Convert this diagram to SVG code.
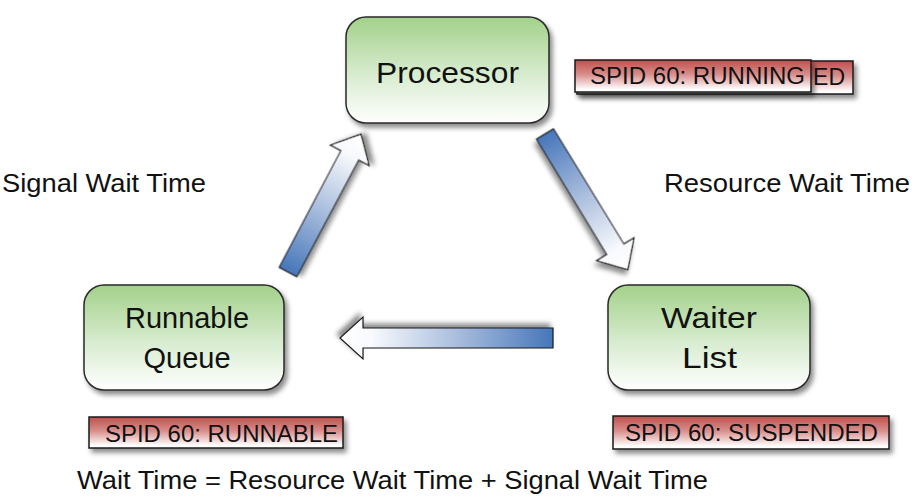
<svg xmlns="http://www.w3.org/2000/svg" width="915" height="502" viewBox="0 0 915 502">
<defs>
<linearGradient id="gGreen" x1="0" y1="0" x2="0" y2="1">
<stop offset="0" stop-color="#a3d18a"/>
<stop offset="0.55" stop-color="#d8ecd0"/>
<stop offset="1" stop-color="#ffffff"/>
</linearGradient>
<linearGradient id="gRed" x1="0" y1="0" x2="0" y2="1">
<stop offset="0" stop-color="#bf4f4c"/>
<stop offset="0.45" stop-color="#d88e8c"/>
<stop offset="0.92" stop-color="#ffffff"/>
</linearGradient>
<linearGradient id="gBlue" x1="0" y1="0" x2="1" y2="0">
<stop offset="0" stop-color="#4676ba"/>
<stop offset="0.45" stop-color="#a9bddd"/>
<stop offset="0.85" stop-color="#f7f9fd"/>
<stop offset="1" stop-color="#ffffff"/>
</linearGradient>
<filter id="sh" x="-20%" y="-20%" width="140%" height="150%">
<feDropShadow dx="3" dy="4" stdDeviation="2.5" flood-color="#000" flood-opacity="0.45"/>
</filter>
</defs>
<style>
.node{fill:url(#gGreen);stroke:#2a2a2a;stroke-width:1.5;filter:url(#sh)}
.tag{fill:url(#gRed);stroke:#1a1a1a;stroke-width:1.5;filter:url(#sh)}
.arrow{fill:url(#gBlue);stroke:#1a1a1a;stroke-width:1.2;filter:url(#sh)}
text{font-family:"Liberation Sans",Arial,sans-serif;fill:#111}
.nt{font-size:30px;text-anchor:middle}
.lt{font-size:25px}
.tt{font-size:23px}
</style>

<g id="connectors">
<polygon class="arrow" transform="translate(288,272) rotate(-62.1)" points="0,-10 132,-10 132,-22 156,0 132,22 132,10 0,10"/>
<polygon class="arrow" transform="translate(545,134) rotate(58.6)" points="0,-10 135,-10 135,-22 159,0 135,22 135,10 0,10"/>
<polygon class="arrow" transform="translate(553,338) rotate(180)" points="0,-10 190,-10 190,-21 213,0 190,21 190,10 0,10"/>
</g>

<g id="processor">
<rect class="node" x="346" y="17" width="203" height="106" rx="20" ry="20"/>
<text class="nt" x="447.5" y="83" textLength="143" lengthAdjust="spacingAndGlyphs">Processor</text>
</g>

<g id="runnable-queue">
<rect class="node" x="84" y="285" width="200" height="105" rx="20" ry="20"/>
<text class="nt" x="187" y="328" textLength="124" lengthAdjust="spacingAndGlyphs">Runnable</text>
<text class="nt" x="187" y="368" textLength="87" lengthAdjust="spacingAndGlyphs">Queue</text>
</g>

<g id="waiter-list">
<rect class="node" x="608" y="285" width="202" height="105" rx="20" ry="20"/>
<text class="nt" x="709" y="328" textLength="96" lengthAdjust="spacingAndGlyphs">Waiter</text>
<text class="nt" x="709.5" y="368" textLength="55" lengthAdjust="spacingAndGlyphs">List</text>
</g>

<g id="tag-suspended-back">
<rect class="tag" x="577" y="61" width="276" height="33"/>
<text class="tt" x="845" y="85" text-anchor="end">ED</text>
</g>

<g id="tag-running">
<rect class="tag" x="575" y="60" width="236" height="32"/>
<text class="tt" x="590" y="84" textLength="215" lengthAdjust="spacingAndGlyphs">SPID 60: RUNNING</text>
</g>

<g id="tag-runnable">
<rect class="tag" x="89" y="417" width="254" height="31"/>
<text class="tt" x="105" y="442" textLength="233" lengthAdjust="spacingAndGlyphs">SPID 60: RUNNABLE</text>
</g>

<g id="tag-suspended">
<rect class="tag" x="613" y="416" width="276" height="33"/>
<text class="tt" x="625" y="441" textLength="253" lengthAdjust="spacingAndGlyphs">SPID 60: SUSPENDED</text>
</g>

<g id="labels">
<text class="lt" x="2" y="192" textLength="204" lengthAdjust="spacingAndGlyphs">Signal Wait Time</text>
<text class="lt" x="664" y="192" textLength="246" lengthAdjust="spacingAndGlyphs">Resource Wait Time</text>
<text class="lt" x="77" y="489" textLength="631" lengthAdjust="spacingAndGlyphs">Wait Time = Resource Wait Time + Signal Wait Time</text>
</g>
</svg>
